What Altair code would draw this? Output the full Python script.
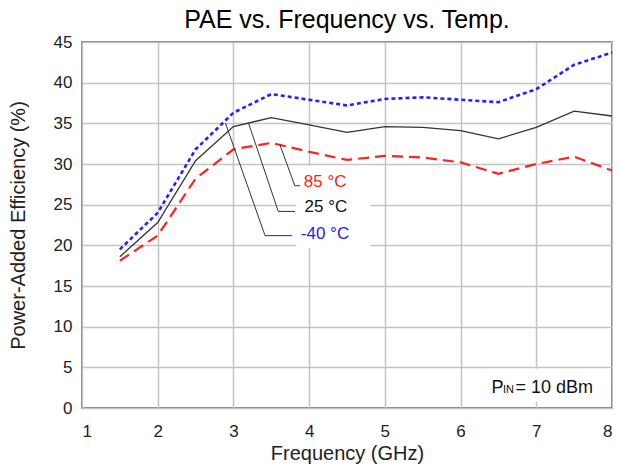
import altair as alt
import pandas as pd

# ---- data ----
freq = [1.5, 2, 2.5, 3, 3.5, 4, 4.5, 5, 5.5, 6, 6.5, 7, 7.5, 8]
pae_m40 = [19.5, 24.0, 31.8, 36.3, 38.6, 37.9, 37.2, 38.0, 38.2, 37.9, 37.6, 39.2, 42.2, 43.7]
pae_25 = [18.6, 22.8, 30.4, 34.6, 35.7, 34.8, 33.9, 34.6, 34.5, 34.1, 33.1, 34.5, 36.5, 35.9]
pae_85 = [18.1, 21.2, 28.2, 31.8, 32.6, 31.5, 30.5, 31.0, 30.8, 30.2, 28.8, 30.0, 30.9, 29.2]

x_ticks = [1, 2, 3, 4, 5, 6, 7, 8]
y_ticks = [0, 5, 10, 15, 20, 25, 30, 35, 40, 45]

# callout labels (data units)
label_text = ["85 °C", "25 °C", "-40 °C"]
label_color = ["#ff1a1a", "#111111", "#1a1aff"]
label_x = [3.93, 3.94, 3.89]
label_y = [27.83, 24.69, 21.43]

# leader lines (data units): start on curve, elbow, end near label
leader_id = ["85", "85", "85", "25", "25", "25", "m40", "m40", "m40"]
leader_ord = [0, 1, 2, 0, 1, 2, 0, 1, 2]
leader_x = [3.614, 3.810, 3.88, 3.199, 3.592, 3.814, 2.894, 3.418, 3.775]
leader_y = [32.37, 27.33, 27.33, 35.04, 24.17, 24.17, 35.04, 21.19, 21.19]

# white background boxes behind annotations (data units)
box_x1 = [3.83, 6.33]
box_x2 = [4.81, 7.9]
box_y1 = [19.7, 0.77]
box_y2 = [29.8, 4.83]

# P_IN = 10 dBm annotation pieces (baseline positions)
pin_text = ["P", "IN", "= 10 dBm"]
pin_x = [6.41, 6.56, 6.725]
pin_y = [1.84, 1.84, 1.84]
pin_size = [18, 11, 18]

FONT = "Liberation Sans"
W, H = 530, 366

df = pd.DataFrame({
    "freq": freq * 3,
    "pae": pae_m40 + pae_25 + pae_85,
    "series": ["-40"] * len(freq) + ["25"] * len(freq) + ["85"] * len(freq),
})

xs = alt.Scale(domain=[1, 8], nice=False, zero=False)
ys = alt.Scale(domain=[0, 45], nice=False)

x_axis = alt.Axis(values=x_ticks, title="Frequency (GHz)", format="d",
                  titleX=W / 2, titleY=45, titleBaseline="middle")
y_axis = alt.Axis(values=y_ticks, title="Power-Added Efficiency (%)", format="d",
                  titleX=-64, titleY=H / 2, titleBaseline="middle", titleAngle=-90)

X = alt.X("freq:Q", scale=xs, axis=x_axis)
Y = alt.Y("pae:Q", scale=ys, axis=y_axis)

boxes = alt.Chart(pd.DataFrame({"x1": box_x1, "x2": box_x2, "y1": box_y1, "y2": box_y2})).mark_rect(
    color="white").encode(
    x=alt.X("x1:Q", scale=xs, axis=x_axis), x2="x2:Q",
    y=alt.Y("y1:Q", scale=ys, axis=y_axis), y2="y2:Q")

styles = {
    "85": dict(color="#ff2020", strokeDash=[11, 6], strokeWidth=2.2),
    "25": dict(color="#333333", strokeWidth=1.3),
    "-40": dict(color="#2222ff", strokeDash=[4, 3], strokeWidth=2.6),
}
lines = [
    alt.Chart(df[df.series == s]).mark_line(**styles[s]).encode(x=X, y=Y)
    for s in ["85", "25", "-40"]
]

leaders = alt.Chart(pd.DataFrame({"id": leader_id, "o": leader_ord, "freq": leader_x, "pae": leader_y})).mark_line(
    color="#333333", strokeWidth=1).encode(x=X, y=Y, detail="id:N", order="o:Q")

labels = alt.Chart(pd.DataFrame({"t": label_text, "c": label_color, "freq": label_x, "pae": label_y})).mark_text(
    align="left", baseline="middle", font=FONT, fontSize=17).encode(
    x=X, y=Y, text="t:N", color=alt.Color("c:N", scale=None))

pin = alt.layer(*[
    alt.Chart(pd.DataFrame({"t": [t], "freq": [xx], "pae": [yy]})).mark_text(
        align="left", baseline="alphabetic", font=FONT, color="#111111", fontSize=fs).encode(
        x=X, y=Y, text="t:N")
    for t, xx, yy, fs in zip(pin_text, pin_x, pin_y, pin_size)
])

chart = alt.layer(boxes, *lines, leaders, labels, pin).properties(
    width=W, height=H,
    title=alt.TitleParams("PAE vs. Frequency vs. Temp.", font=FONT, fontSize=25,
                          fontWeight="normal", anchor="middle", color="#000000",
                          offset=0),
    padding={"left": 74, "top": 34, "right": 1, "bottom": 56},
    autosize=alt.AutoSizeParams(type="none"),
).configure_view(
    stroke="#555555", strokeWidth=1.5
).configure_axis(
    grid=True, gridColor="#c4c4c4", gridWidth=1.5,
    domain=False, ticks=False,
    labelFont=FONT, labelFontSize=17, labelColor="#222222",
    titleFont=FONT, titleFontSize=20, titleColor="#222222", titleFontWeight="normal",
).configure_axisX(
    labelPadding=15
).configure_axisY(
    labelPadding=10
)

chart.save("out.html", embed_options={"renderer": "svg", "actions": False})
